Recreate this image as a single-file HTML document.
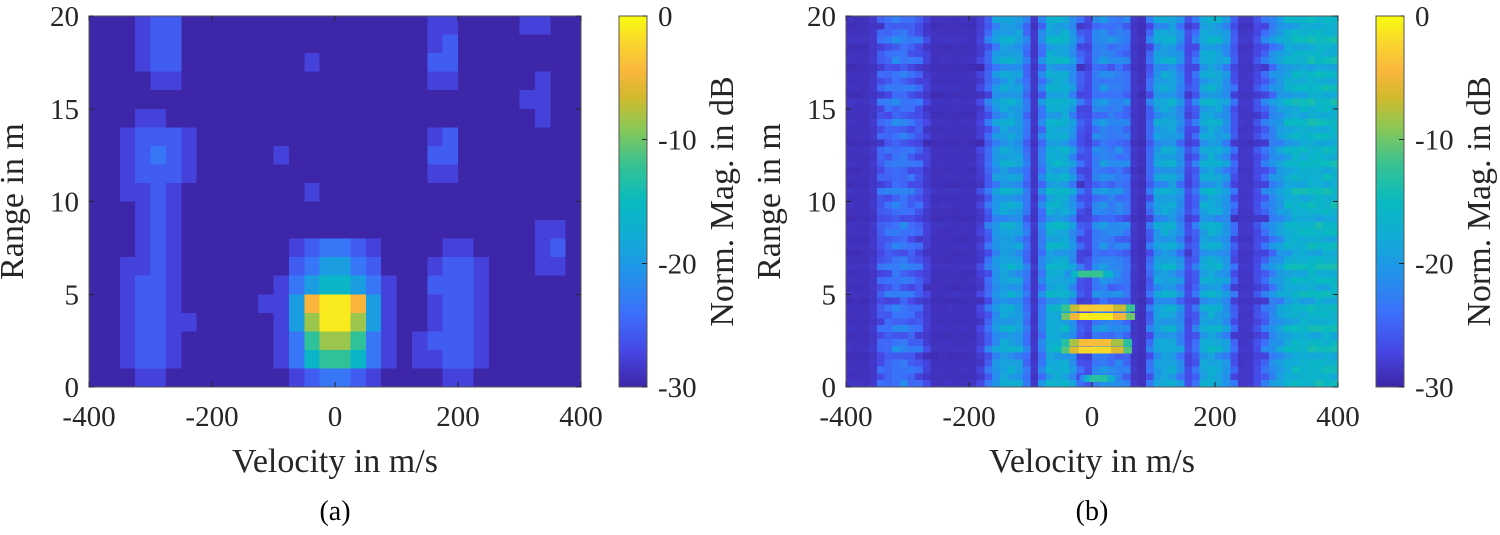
<!DOCTYPE html>
<html><head><meta charset="utf-8">
<style>
html,body{margin:0;padding:0;background:#fff;}
svg{display:block;}
svg text{font-family:"Liberation Serif","DejaVu Serif",serif;}
.tick{font-size:29px;fill:#262626;}
.lab{font-size:34px;fill:#262626;}
</style></head>
<body>
<svg id="fig" width="1500" height="535" viewBox="0 0 1500 535" xmlns="http://www.w3.org/2000/svg" shape-rendering="crispEdges"></svg>
<script>
// ---------- data ----------
// Plot (a): level grid, rows from range 20 (top) to 0 (bottom), 32 velocity bins of 25 m/s
const gridA = [
"00012200000000000000001100001100",
"00012200000000000000001200000000",
"00012200000000100000002200000000",
"00001100000000000000001100000100",
"00000000000000000000000000001100",
"00011000000000000000000000000100",
"00122210000000000000001200000000",
"00123210000010000000002200000000",
"00122210000000000000001100000000",
"00112100000000100000000000000000",
"00012100000000000000000000000000",
"00012100000000000000000000000110",
"00012100000001233210000110000120",
"00112100000002344320001221000110",
"00122100000013455431002221000000",
"00122100000114899841001221000000",
"00122110000014799741001221000000",
"00122100000013677631012221000000",
"00122100000013566531011221000000",
"00011000000001233210000110000000"
];
// level -> dB
const levDb = [-30,-27.5,-25.5,-23.5,-19.5,-16,-12.5,-8.5,-4.5,-1];
// Plot (b): per-velocity-bin base level (dB), 64 bins of 12.5 m/s
const colDbB = [-29,-29,-29,-28.5,-26,-25,-24,-24,-25,-26,-28,-29,-29,-29,-29,-29,
-29,-28,-25,-21,-19,-19,-20,-24,-28.5,-23,-18,-18,-18,-21,-26,-27,
-23,-22,-23,-23,-24,-28.5,-29,-25,-20,-19,-19,-22,-27,-25,-19,-18,
-19,-21,-26,-28.5,-28.5,-27,-25,-22,-20,-18,-17,-17,-16.5,-16.5,-16.5,-16.5];
// row-wise fluctuation (dB), 54 range rows
const rowJitB = [2,-3,1,4,-2,0,3,-4,1,-1,2,-3,4,0,-2,3,-1,1,-4,2,
0,3,-2,1,-3,4,-1,2,0,-4,3,1,-2,2,-3,0,4,-1,1,-2,
3,-4,2,0,-1,3,-2,1,4,-3,0,2,-1,3];
// bright streaks in (b): velocity start, end, range, dB
const streakV0 = [-50,-50,-50,-50,-45,-20];
const streakV1 = [ 70, 70, 65, 65, 45, 45];
const streakR  = [4.25,3.8,2.4,2.0,6.1,0.45];
const streakDb = [-3,-1,-4,-2,-12,-13];
const xTicks = [-400,-200,0,200,400];
const yTicks = [0,5,10,15,20];
const cTicks = [0,-10,-20,-30];

// ---------- colormap ----------
const cmap=[[0,62,38,168],[0.1,70,72,230],[0.2,60,112,250],[0.3,35,145,235],[0.4,18,170,215],
[0.5,8,186,192],[0.6,55,194,145],[0.7,140,200,85],[0.78,210,185,45],[0.85,250,182,60],[0.93,250,215,45],[1,249,251,14]];
function col(db){
  let t=(db+30)/30; t=Math.max(0,Math.min(1,t));
  for(let i=1;i<cmap.length;i++){ if(t<=cmap[i][0]){const a=cmap[i-1],b=cmap[i];const f=(t-a[0])/(b[0]-a[0]);
    return `rgb(${Math.round(a[1]+f*(b[1]-a[1]))},${Math.round(a[2]+f*(b[2]-a[2]))},${Math.round(a[3]+f*(b[3]-a[3]))})`;}}
  return 'rgb(249,251,14)';
}
const NS='http://www.w3.org/2000/svg';
const svg=document.getElementById('fig');
const FF='"Liberation Serif","DejaVu Serif",serif';
function el(tag,attrs,parent,txt){const e=document.createElementNS(NS,tag);for(const k in attrs)e.setAttribute(k,attrs[k]);if(tag==='text')e.setAttribute('font-family',FF);if(txt!==undefined)e.textContent=txt;(parent||svg).appendChild(e);return e;}

function panel(px, tag){
  const L=px, R=px+492, T=16, B=387;
  const xs=v=>L+(v+400)/800*(R-L);
  const ys=r=>B-r/20*(B-T);
  const g=el('g',{});
  
  
  return {L,R,T,B,xs,ys,g};
}
function axes(p,tag,cbx,labX,ylabX,capX,cap){
  el('rect',{x:p.L,y:p.T,width:p.R-p.L,height:p.B-p.T,fill:'none',stroke:'#555','stroke-width':1});
  xTicks.forEach(v=>{
    const x=p.xs(v);
    el('line',{x1:x,x2:x,y1:p.B,y2:p.B-5,stroke:'#262626'});
    el('line',{x1:x,x2:x,y1:p.T,y2:p.T+5,stroke:'#262626'});
    const t=el('text',{x:x,y:426,'text-anchor':'middle',class:'tick'},null,String(v));
    
    
  });
  yTicks.forEach(r=>{
    const y=p.ys(r);
    el('line',{x1:p.L,x2:p.L+5,y1:y,y2:y,stroke:'#262626'});
    el('line',{x1:p.R,x2:p.R-5,y1:y,y2:y,stroke:'#262626'});
    const t=el('text',{x:p.L-10,y:y+10,'text-anchor':'end',class:'tick'},null,String(r));
    
    
  });
  const xl=el('text',{x:(p.L+p.R)/2,y:472,'text-anchor':'middle',class:'lab'},null,'Velocity in m/s');
  
  
  const yl=el('text',{x:0,y:0,'text-anchor':'middle',class:'lab',transform:`translate(${ylabX},${(p.T+p.B)/2}) rotate(-90)`},null,'Range in m');
  
  
  const cb=el('g',{});
  
  
  const n=120;
  for(let i=0;i<n;i++){
    const y0=p.T+i*(p.B-p.T)/n;
    el('rect',{x:cbx,y:y0,width:28,height:(p.B-p.T)/n+0.6,fill:col(-30*(i+0.5)/n)},cb);
  }
  el('rect',{x:cbx,y:p.T,width:28,height:p.B-p.T,fill:'none',stroke:'#555'},cb);
  cTicks.forEach(d=>{
    const y=p.T+(-d)/30*(p.B-p.T);
    el('line',{x1:cbx+28,x2:cbx+23,y1:y,y2:y,stroke:'#262626'},cb);
    const t=el('text',{x:cbx+39,y:y+10,class:'tick'},cb,String(d));
    
    
  });
  const cl=el('text',{x:0,y:0,'text-anchor':'middle',class:'lab',transform:`translate(${labX},${(p.T+p.B)/2}) rotate(-90)`},null,'Norm. Mag. in dB');
  
  
  const c=el('text',{x:(p.L+p.R)/2,y:520,'text-anchor':'middle',style:'font-size:28px',fill:'#000'},null,cap);
  
  
}

// ---------- panel (a) ----------
const pa=panel(89,'a');
const nColA=gridA[0].length, nRowA=gridA.length;
gridA.forEach((row,ri)=>{
  for(let ci=0;ci<nColA;ci++){
    const lev=+row[ci];
    const v0=-400+ci*800/nColA, v1=v0+800/nColA;
    const r1=20-ri*20/nRowA, r0=r1-20/nRowA;
    const rc=el('rect',{x:pa.xs(v0),y:pa.ys(r1),width:pa.xs(v1)-pa.xs(v0)+0.5,height:pa.ys(r0)-pa.ys(r1)+0.5,fill:col(levDb[lev])},pa.g);
    
    
  }
});
axes(pa,'a',619,733,23,335,'(a)');

// ---------- panel (b) ----------
const pb=panel(846,'b');
const nColB=colDbB.length, nRowB=rowJitB.length;
for(let ri=0;ri<nRowB;ri++){
  for(let ci=0;ci<nColB;ci++){
    const base=colDbB[ci];
    const sens=base<=-28.5?0.1:(base<-26?0.4:0.8);
    const db=Math.min(-14,base+(rowJitB[ri]*0.6+rowJitB[(ri+7*ci)%nRowB]*0.4)*sens);
    const v0=-400+ci*800/nColB, v1=v0+800/nColB;
    const r1=20-ri*20/nRowB, r0=r1-20/nRowB;
    const rc=el('rect',{x:pb.xs(v0),y:pb.ys(r1),width:pb.xs(v1)-pb.xs(v0)+0.5,height:pb.ys(r0)-pb.ys(r1)+0.5,fill:col(db)},pb.g);
    
    
  }
}
streakR.forEach((r,i)=>{
  const h=20/nRowB;
  const v0=streakV0[i], v1=streakV1[i], w=v1-v0;
  const segs=[[v0,v1,streakDb[i]-9],[v0+w*0.12,v1-w*0.12,streakDb[i]-4],[v0+w*0.25,v1-w*0.3,streakDb[i]]];
  segs.forEach(s=>{
    const rc=el('rect',{x:pb.xs(s[0]),y:pb.ys(r+h/2),width:pb.xs(s[1])-pb.xs(s[0]),height:pb.ys(r-h/2)-pb.ys(r+h/2),fill:col(s[2])},pb.g);
    
    
  });
});
axes(pb,'b',1376,1490,780,1092,'(b)');
</script>
</body></html>
